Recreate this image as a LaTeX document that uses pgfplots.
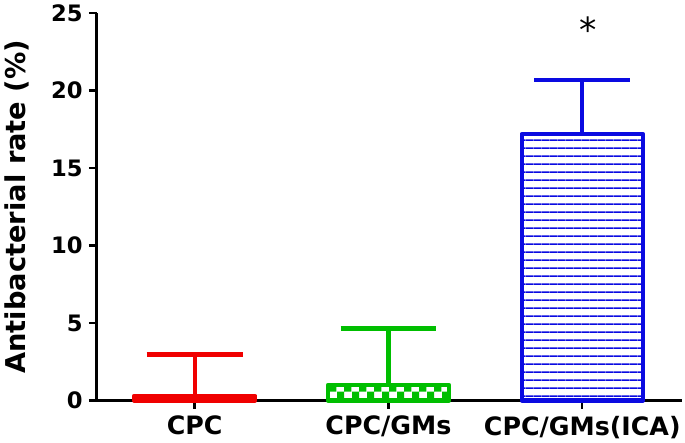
\documentclass[border=0pt]{standalone}
\usepackage{fontspec}
\setmainfont{DejaVu Sans}
\usepackage{pgfplots}
\pgfplotsset{compat=1.18}
\usetikzlibrary{patterns,patterns.meta}

\definecolor{cpcred}{RGB}{240,0,0}
\definecolor{gmgreen}{RGB}{0,190,0}
\definecolor{icablue}{RGB}{10,10,225}

% checkerboard for the CPC/GMs bar
\pgfdeclarepatternformonly{bigcheck}{\pgfpointorigin}{\pgfqpoint{11pt}{11pt}}{\pgfqpoint{11pt}{11pt}}{%
  \pgfpathrectangle{\pgfpointorigin}{\pgfqpoint{5.5pt}{5.5pt}}%
  \pgfpathrectangle{\pgfqpoint{5.5pt}{5.5pt}}{\pgfqpoint{5.5pt}{5.5pt}}%
  \pgfusepath{fill}}

\begin{document}
\begin{tikzpicture}
\begin{axis}[
  scale only axis,
  width=439.5pt, height=291pt,
  xmin=-0.505, xmax=2.515,
  ymin=0, ymax=25,
  axis lines=left,
  axis line style={-, line width=2.2pt},
  xtick={0,1,2},
  xticklabels={CPC,CPC/GMs,CPC/GMs(ICA)},
  ytick={0,5,10,15,20,25},
  tick style={line width=1.8pt, black},
  major tick length=6pt,
  tick align=outside,
  /pgf/number format/assume math mode=true,
  yticklabel style={font=\fontsize{17}{17}\selectfont\bfseries, xshift=-1pt},
  xticklabel style={font=\fontsize{19}{19}\selectfont\bfseries, yshift=-2pt},
  ylabel={Antibacterial rate (\%)},
  ylabel style={font=\fontsize{20.5}{20.5}\selectfont\bfseries, yshift=10pt},
  clip=false,
]
% CPC
\addplot[ybar, bar width=91pt, bar shift=0pt, draw=cpcred, fill=cpcred, line width=3.2pt, line join=round,
  error bars/.cd, y dir=plus, y explicit,
  error bar style={line width=3.2pt, cpcred},
  error mark options={rotate=90, line width=3.2pt, mark size=36pt, cpcred}]
  coordinates {(0,0.3) +- (0,2.67)};
% CPC/GMs
\addplot[ybar, bar width=91pt, bar shift=0pt, draw=gmgreen, pattern=bigcheck, pattern color=gmgreen, line width=3.2pt, line join=round,
  error bars/.cd, y dir=plus, y explicit,
  error bar style={line width=3.2pt, gmgreen},
  error mark options={rotate=90, line width=3.2pt, mark size=36pt, gmgreen}]
  coordinates {(1,1.0) +- (0,3.65)};
% CPC/GMs(ICA)
\addplot[ybar, bar width=91pt, bar shift=0pt, draw=icablue, line width=3.2pt, line join=round,
  pattern={Lines[angle=0, distance=5.85pt, line width=1.2pt]}, pattern color=icablue,
  error bars/.cd, y dir=plus, y explicit,
  error bar style={line width=3.2pt, icablue},
  error mark options={rotate=90, line width=3.2pt, mark size=36pt, icablue}]
  coordinates {(2,17.2) +- (0,3.5)};
\node[font=\fontsize{26}{26}\selectfont] at (axis cs:2.03,23.9) {*};
\end{axis}
\end{tikzpicture}
\end{document}
